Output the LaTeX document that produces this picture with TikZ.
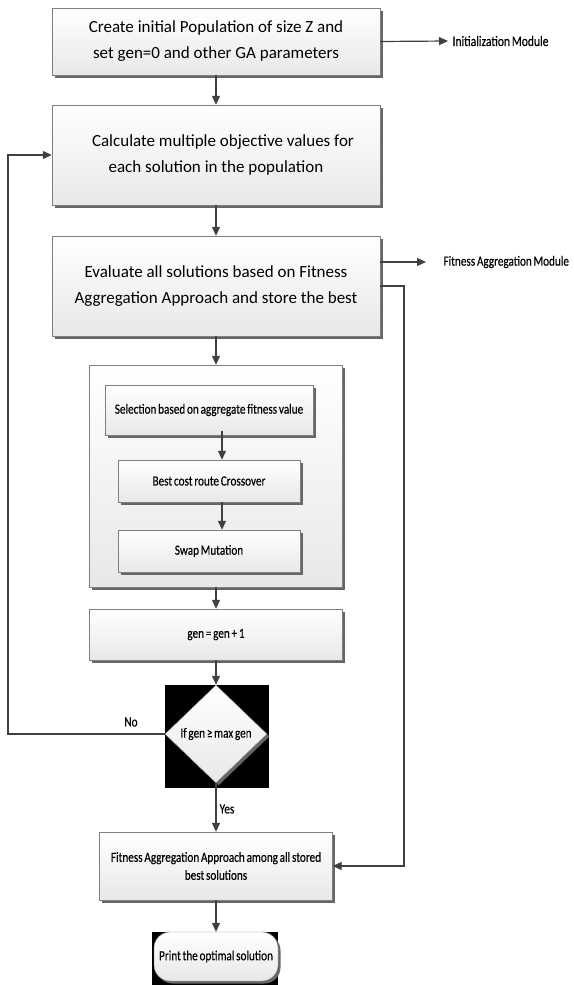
\documentclass[tikz,border=0pt]{standalone}
\usepackage{fontspec}
\setmainfont{Carlito}
\newfontfamily\narrowfont[FakeStretch=0.8,FakeBold=0.3,WordSpace=0.7]{Carlito}
\usepackage{tikz}
\usepackage{xcolor}
\usetikzlibrary{shapes.geometric,shadows,arrows.meta}
\definecolor{boxline}{HTML}{7F7F7F}
\definecolor{arrowgray}{HTML}{404040}

\begin{document}
\begin{tikzpicture}[x=1pt,y=-1pt,
  box/.style={draw=boxline,top color=white,bottom color=black!9,inner sep=0pt,align=center,
    drop shadow={shadow xshift=2.5pt,shadow yshift=-2.5pt,fill=black!60,opacity=1}},
  bigtext/.style={font=\fontsize{17}{26}\selectfont},
  smalltext/.style={font=\narrowfont\fontsize{14}{18}\selectfont,align=center},
  arr/.style={draw=arrowgray,line width=1.2pt,-{Triangle[length=9pt,width=8pt]}}]

\fill[white] (0,0) rectangle (573,985);
\useasboundingbox (0,0) rectangle (573,985);

% main column
\node[box,bigtext,minimum width=328pt,minimum height=67pt] (init) at (216,41.5)
  {Create initial Population of size Z and\\ set gen=0 and other GA parameters};
\node[box,bigtext,minimum width=328pt,minimum height=100pt] (calc) at (216,155)
  {\hspace*{14pt}Calculate multiple objective values for\\each solution in the population};
\node[box,bigtext,minimum width=328pt,minimum height=100pt] (eval) at (216,286)
  {Evaluate all solutions based on Fitness\\Aggregation Approach and store the best};

% genetic operators
\node[box,minimum width=253pt,minimum height=222pt] (ops) at (216,476) {};
\node[box,smalltext,minimum width=208pt,minimum height=50pt] (sel) at (209,410) {Selection based on aggregate fitness value};
\node[box,smalltext,minimum width=182pt,minimum height=42pt] (cross) at (209,481) {Best cost route Crossover};
\node[box,smalltext,minimum width=182pt,minimum height=42pt] (swap) at (209,551) {Swap Mutation};

\node[box,smalltext,minimum width=253pt,minimum height=51pt] (incr) at (216,634.5) {gen = gen + 1};
\fill (165,685) rectangle (269,788);
\node[box,smalltext,diamond,minimum width=102pt,minimum height=98pt] (check) at (216,734) {If gen ≥ max gen};
\node[box,smalltext,minimum width=233pt,minimum height=68pt] (final) at (216,866)
  {Fitness Aggregation Approach among all stored\\best solutions};
\fill (152,932) rectangle (278,985);
\node[box,smalltext,rounded corners=16pt,minimum width=124pt,minimum height=49pt] (print) at (216,956.5) {Print the optimal solution};

% labels
\node[smalltext,font=\narrowfont\fontsize{14.5}{18}\selectfont,anchor=west] (initlbl) at (449,41) {Initialization Module};
\node[smalltext,font=\narrowfont\fontsize{14}{18}\selectfont,anchor=west] (fitlbl) at (440,262) {Fitness Aggregation Module};
\node[smalltext] (no) at (131,722) {No};
\node[smalltext] (yes) at (227,809) {Yes};
\coordinate (loopL) at (8,400);
\coordinate (loopR) at (404,500);

% connectors
\foreach \a/\b in {init/calc,calc/eval,eval/ops,ops/incr,incr/check,check/final,final/print}
  \draw[arr] (\a.south) -- (\b.north);
\draw[arr] ([xshift=13pt,yshift=4pt]sel.south) -- ([xshift=13pt]cross.north);
\draw[arr] ([xshift=13pt]cross.south) -- ([xshift=13pt]swap.north);
\draw[arr] (init.east) -- ([xshift=-1pt]initlbl.west);
\draw[arr] (eval.east |- fitlbl.west) -- ([xshift=-14pt]fitlbl.west);
\draw[arr] (eval.east) -| (loopR) |- (final.east);
\draw[arr] (check.west) -| (loopL) |- (calc.west);
\end{tikzpicture}
\end{document}
